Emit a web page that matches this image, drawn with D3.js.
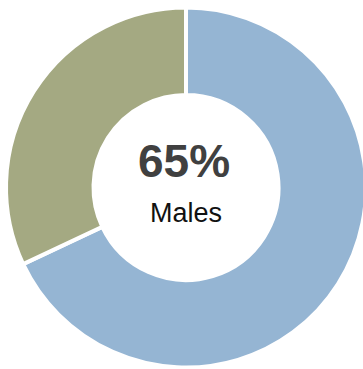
<!DOCTYPE html>
<html>
<head>
<meta charset="utf-8">
<title>Males share</title>
<script src="https://d3js.org/d3.v7.min.js"></script>
<style>
  body { margin: 0; background: #fff; }
</style>
</head>
<body>
<svg width="363" height="369"></svg>
<script>
  // slices, clockwise from 12 o'clock
  const categories = ["Males", "Females"];
  const values = [68, 32];
  const colors = ["#95b5d3", "#a4a982"];
  const centerValue = "65%";
  const centerLabel = "Males";

  const cx = 186, cy = 187.5;
  const outerR = 180, innerR = 92.5;

  const svg = d3.select("svg");
  const g = svg.append("g").attr("transform", "translate(" + cx + "," + cy + ")");

  const pie = d3.pie().sort(null).value(function (d, i) { return values[i]; });
  const arc = d3.arc().innerRadius(innerR).outerRadius(outerR);

  g.selectAll("path")
    .data(pie(categories))
    .enter()
    .append("path")
    .attr("d", arc)
    .attr("fill", function (d, i) { return colors[i]; })
    .attr("stroke", "#fff")
    .attr("stroke-width", 4);

  g.append("text")
    .attr("text-anchor", "middle")
    .attr("x", -2)
    .attr("y", -10.5)
    .attr("font-family", "Liberation Sans, Arial, sans-serif")
    .attr("font-weight", "bold")
    .attr("font-size", 46)
    .attr("fill", "#404040")
    .text(centerValue);

  g.append("text")
    .attr("text-anchor", "middle")
    .attr("y", 34.5)
    .attr("font-family", "Liberation Sans, Arial, sans-serif")
    .attr("font-size", 27)
    .attr("fill", "#111")
    .text(centerLabel);
</script>
</body>
</html>
